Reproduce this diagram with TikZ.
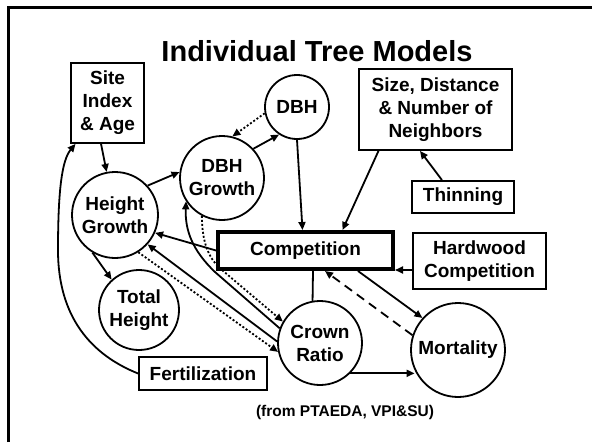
\documentclass[tikz,border=0pt]{standalone}
\usepackage{fontspec}
\setmainfont{Liberation Sans}
\usetikzlibrary{arrows.meta,calc}
\begin{document}
\begin{tikzpicture}[x=1pt,y=-1pt,
  lbl/.style={font=\fontsize{19}{23}\selectfont\bfseries, align=center},
  box/.style={lbl, draw, line width=1.8pt, rectangle, inner sep=0pt},
  circ/.style={lbl, draw, line width=1.8pt, circle, inner sep=0pt},
  conn/.style={line width=1.8pt, -{Triangle[length=8pt,width=7pt]}},
  plainline/.style={line width=1.8pt},
  dotline/.style={dash pattern=on 2pt off 2pt},
  dashline/.style={dash pattern=on 9pt off 6pt}]
\useasboundingbox (0,0) rectangle (592,442);
\draw[line width=3pt] (8,442) -- (8,7) -- (592,7);

\node[font=\fontsize{29}{34}\selectfont\bfseries, anchor=base] (title) at (317,61) {Individual Tree Models};

\node[box, minimum width=73pt, minimum height=80pt] (site) at (107.5,103) {Site\\Index\\\& Age};
\node[box, minimum width=153pt, minimum height=81pt] (size) at (435.5,109.5) {Size, Distance\\\& Number of\\Neighbors};
\node[box, minimum width=102pt, minimum height=32pt] (thin) at (463,197) {Thinning};
\node[box, line width=4pt, minimum width=175pt, minimum height=37pt] (comp) at (305.5,250.5) {Competition};
\node[box, minimum width=133pt, minimum height=56pt] (hard) at (479.5,261) {Hardwood\\Competition};
\node[box, minimum width=128pt, minimum height=33pt] (fert) at (203,373.5) {Fertilization};

\node[circ, minimum size=64pt] (dbh) at (297,107) {DBH};
\node[circ, minimum size=84pt] (dbhg) at (222,178) {DBH\\Growth};
\node[circ, minimum size=86pt] (hg) at (115,215) {Height\\Growth};
\node[circ, minimum size=80pt] (th) at (139,310) {Total\\Height};
\node[circ, minimum size=84pt] (cr) at (320,343) {Crown\\Ratio};
\node[circ, minimum size=94pt] (mort) at (458,350) {Mortality};

\node[font=\fontsize{15.5}{18}\selectfont\bfseries, anchor=base] (src) at (345,416) {(from PTAEDA, VPI\&SU)};

% connectors
\draw[conn] (site.261) -- (hg.101);
\draw[conn] (fert.west) .. controls (92,355) and (58,318) .. (58,250)
            .. controls (58,190) and (62,160) .. (site.232);
\draw[conn] (hg.42) -- (dbhg.172);
\draw[conn] (hg.239) -- (th.132);
\draw[conn] (dbhg.43) -- (dbh.237);
\draw[conn, dotline] (dbh.191) -- (dbhg.76);
\draw[conn] (dbh.south) -- ([xshift=-3pt]comp.north);
\draw[conn] ([xshift=-57pt]size.south) -- ([xshift=37pt]comp.north);
\draw[conn] ([xshift=-21pt]thin.north) -- ([xshift=-15.5pt]size.south);
\draw[conn] ([yshift=-9pt]hard.west) -- ([yshift=-9pt]hard.west -| comp.east);
\draw[conn] ([xshift=52.5pt]comp.south) -- (mort.138);
\draw[conn, dashline] (mort.162) -- ([xshift=19.5pt]comp.south);
\draw[plainline] ([xshift=7.5pt]comp.south) -- (cr.100);
\draw[conn] (cr.-45) -- (cr.-45 -| mort.205);
\draw[conn] (comp.west) -- (hg.-24);
\draw[conn] (cr.178) -- (hg.-42);
\draw[conn, dotline] (hg.-58) -- (cr.192);
\draw[conn] (cr.160) -- (215,272) .. controls (192,250) and (185,230) .. (dbhg.213);
\draw[conn, dotline] (dbhg.242) .. controls (202,245) and (210,260) .. (222,270) -- (cr.150);
\end{tikzpicture}
\end{document}
